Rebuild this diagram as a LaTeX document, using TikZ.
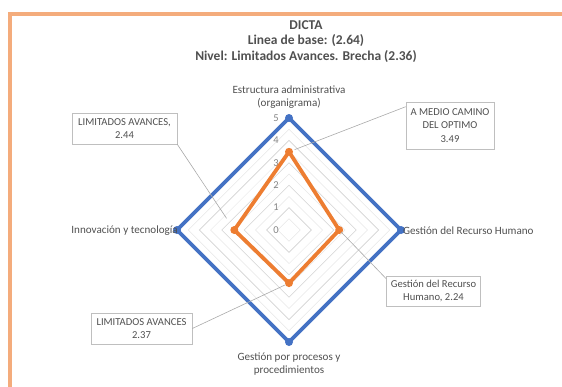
\documentclass[tikz,border=0pt]{standalone}
\usepackage{fontspec}
\setmainfont{Carlito}
\usetikzlibrary{calc}
\definecolor{frameor}{RGB}{244,172,124}
\definecolor{xblue}{RGB}{68,114,196}
\definecolor{xorange}{RGB}{237,125,49}
\definecolor{txt}{RGB}{80,80,80}
\definecolor{gridc}{RGB}{210,210,210}
\definecolor{gridm}{RGB}{230,230,230}
\definecolor{boxc}{RGB}{191,191,191}
\definecolor{leadc}{RGB}{170,170,170}
\begin{document}
\begin{tikzpicture}[x=1pt,y=-1pt,
 frame/.style={draw=frameor,line width=3.5pt},
 gridmajor/.style={draw=gridc,line width=0.6pt},
 gridminor/.style={draw=gridm,line width=0.5pt},
 bluepoly/.style={draw=xblue,line width=3.8pt,line join=round},
 orpoly/.style={draw=xorange,line width=3.8pt,line join=round},
 bluedot/.style={circle,fill=xblue,inner sep=0pt,minimum size=8pt},
 ordot/.style={circle,fill=xorange,inner sep=0pt,minimum size=8pt},
 axlabel/.style={font=\fontsize{11.1}{13}\selectfont,text=txt,inner sep=0pt,align=center},
 ticklabel/.style={font=\fontsize{10.5}{12}\selectfont,text=txt!70,inner sep=0pt},
 callout/.style={draw=boxc,line width=0.6pt,fill=white,font=\fontsize{10.6}{13.5}\selectfont,text=txt,align=center,inner sep=0pt},
 leader/.style={draw=leadc,line width=0.6pt},
 titletext/.style={font=\bfseries\fontsize{13.5}{15.5}\selectfont,text=txt,align=center,inner sep=0pt}]
\useasboundingbox (0,0) rectangle (562,386);
\draw[frame] (10,392) -- (10,14) -- (570,14);
% title
\node[titletext] (title) at (306,41.5) {DICTA\\Linea de base: (2.64)\\Nivel: Limitados Avances. Brecha (2.36)};
% grid
\foreach \r in {0.5,1.5,2.5,3.5,4.5}
  \draw[gridminor] (289,{230-\r*22.4}) -- ({289+\r*22.4},230) -- (289,{230+\r*22.4}) -- ({289-\r*22.4},230) -- cycle;
\foreach \r in {1,2,3,4}
  \draw[gridmajor] (289,{230-\r*22.4}) -- ({289+\r*22.4},230) -- (289,{230+\r*22.4}) -- ({289-\r*22.4},230) -- cycle;
% tick labels
\foreach \k in {0,...,5}
  \node[ticklabel] (t\k) at (276,{230-\k*22.4}) {\k};
% target series
\coordinate (b1) at (289,118);
\coordinate (b2) at (401,230);
\coordinate (b3) at (289,342);
\coordinate (b4) at (177,230);
\draw[bluepoly] (b1) -- (b2) -- (b3) -- (b4) -- cycle;
\foreach \i in {1,...,4} \node[bluedot] (bd\i) at (b\i) {};
% actual series
\coordinate (o1) at (289,151.8);
\coordinate (o2) at (339.2,230);
\coordinate (o3) at (289,283.1);
\coordinate (o4) at (234.3,230);
\draw[orpoly] (o1) -- (o2) -- (o3) -- (o4) -- cycle;
\foreach \i in {1,...,4} \node[ordot] (od\i) at (o\i) {};
% axis labels
\node[axlabel] (a1) at (289,97) {Estructura administrativa\\(organigrama)};
\node[axlabel,anchor=east] (a4) at (178,231) {Innovación y tecnología};
\node[axlabel,anchor=west] (a2) at (403,231) {Gestión del Recurso Humano};
\node[axlabel] (a3) at (289,364) {Gestión por procesos y\\procedimientos};
% callouts
\node[callout,minimum width=105pt,minimum height=31pt] (c4) at (124.5,128.5) {LIMITADOS AVANCES,\\2.44};
\node[callout,minimum width=88pt,minimum height=47pt] (c1) at (450,125.5) {A MEDIO CAMINO\\DEL OPTIMO\\3.49};
\node[callout,minimum width=94pt,minimum height=30pt] (c2) at (433.5,291) {Gestión del Recurso\\Humano, 2.24};
\node[callout,minimum width=101pt,minimum height=31pt] (c3) at (141.5,328.5) {LIMITADOS AVANCES\\2.37};
% leaders
\draw[leader,shorten >=6pt] ($(c1.north west)+(0,5)$) -- (o1);
\draw[leader,shorten >=14pt] (c4.south east) -- (o4);
\draw[leader,shorten >=3pt] ($(c2.north west)+(0,3)$) -- (o2);
\draw[leader,shorten >=4pt] (c3.east) -- (o3);
\end{tikzpicture}
\end{document}
